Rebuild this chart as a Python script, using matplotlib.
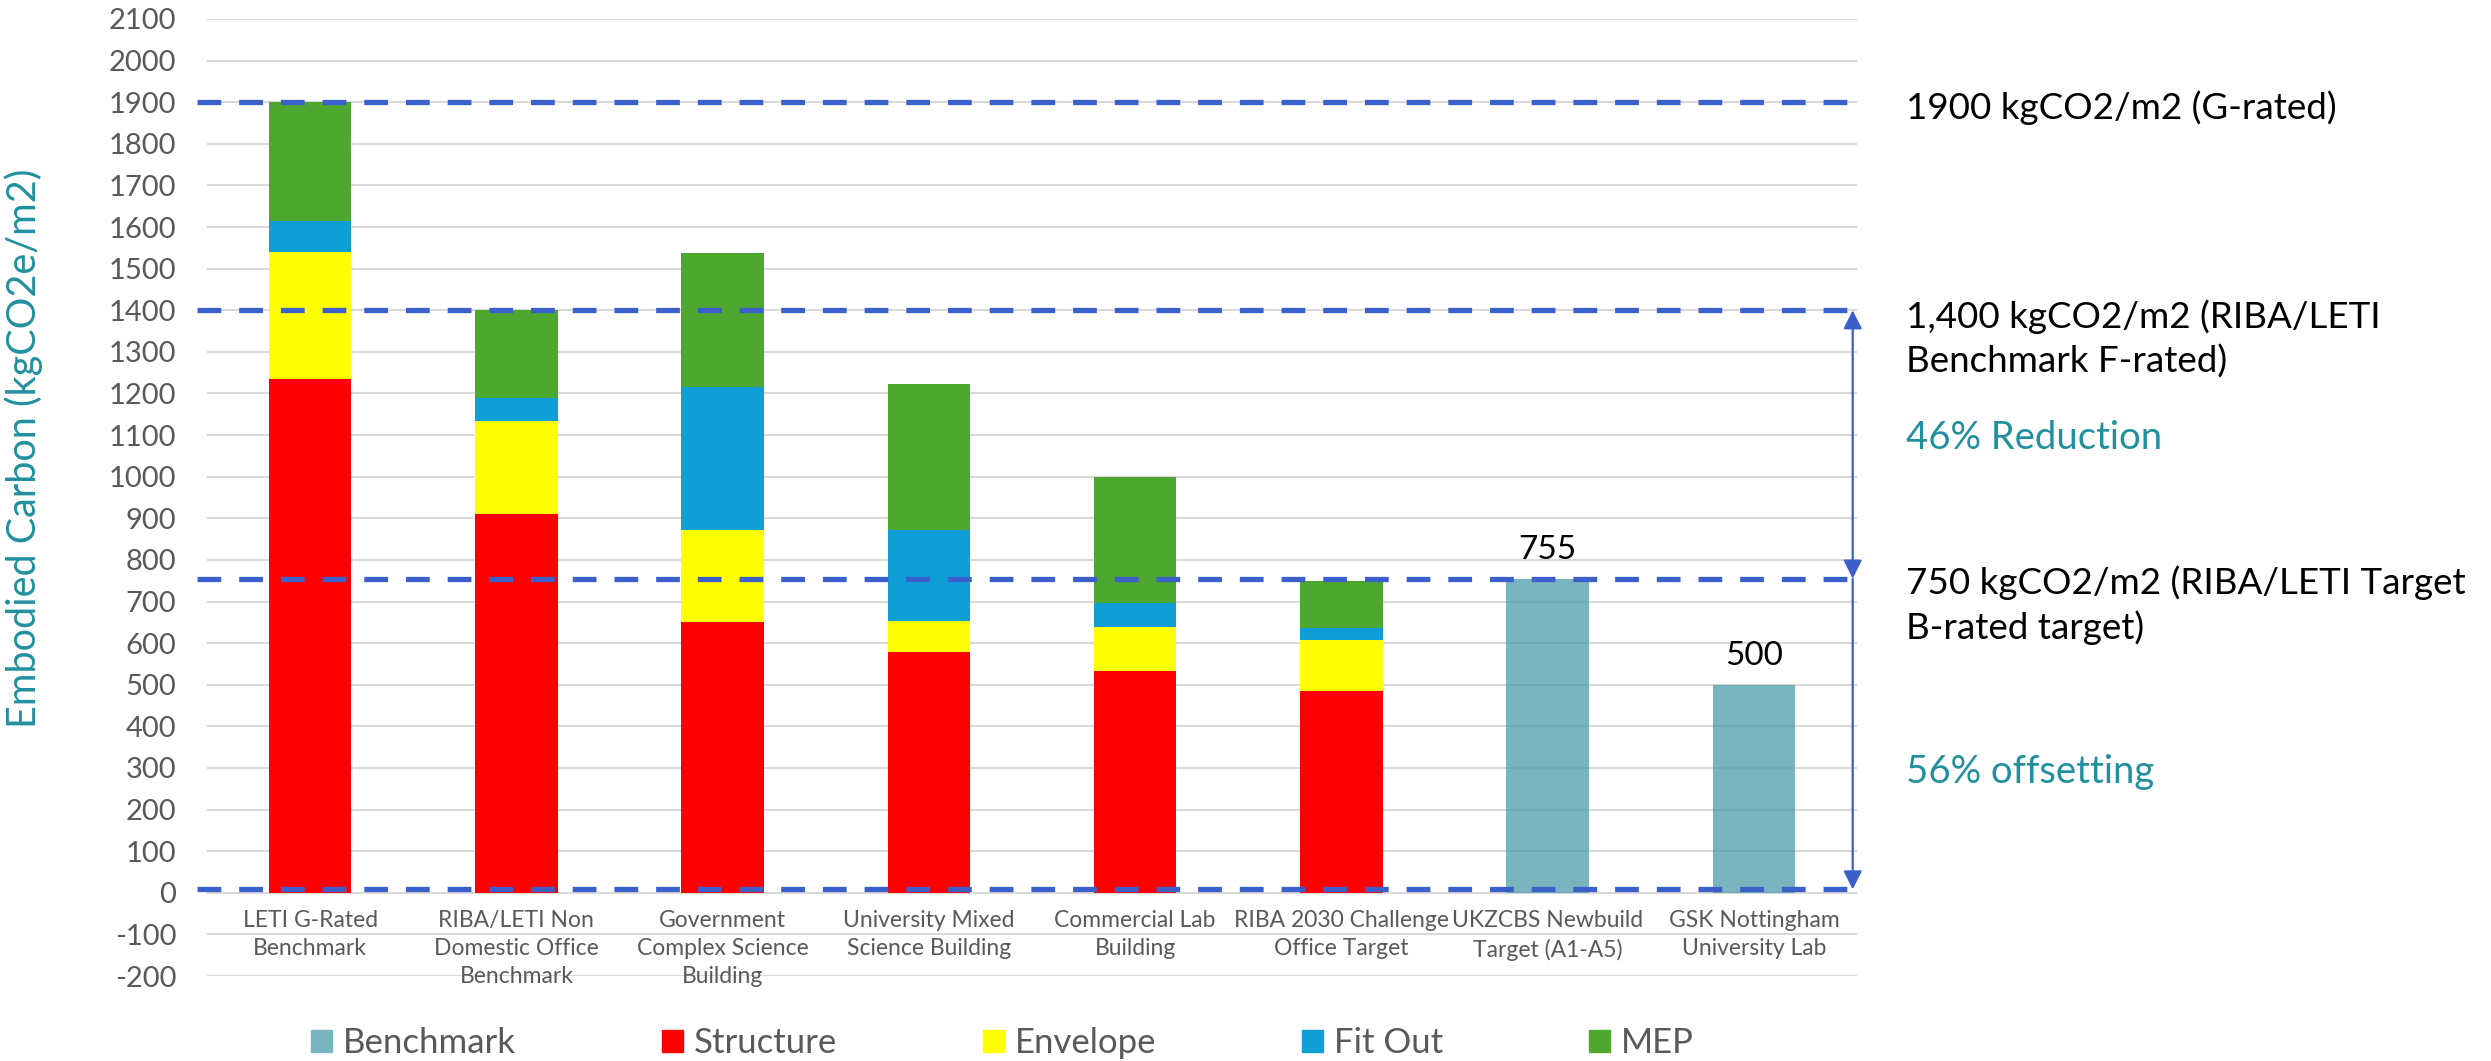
import matplotlib
matplotlib.use("Agg")
import matplotlib.pyplot as plt
from matplotlib.patches import Patch

plt.rcParams["font.family"] = ["Lato", "DejaVu Sans"]

# ---- data (kgCO2e/m2) ----
categories = [
    "LETI G-Rated\nBenchmark",
    "RIBA/LETI Non\nDomestic Office\nBenchmark",
    "Government\nComplex Science\nBuilding",
    "University Mixed\nScience Building",
    "Commercial Lab\nBuilding",
    "RIBA 2030 Challenge\nOffice Target",
    "UKZCBS Newbuild\nTarget (A1-A5)",
    "GSK Nottingham\nUniversity Lab",
]
benchmark = [0, 0, 0, 0, 0, 0, 755, 500]
structure = [1235, 910, 651, 578, 532, 486, 0, 0]
envelope = [305, 225, 220, 74, 107, 121, 0, 0]
fit_out = [75, 55, 345, 220, 58, 29, 0, 0]
mep = [285, 210, 322, 351, 303, 114, 0, 0]

ref_levels = [1900, 1400, 755, 8]
y_ticks = list(range(-200, 2101, 100))

TEAL = "#21909E"
GREY = "#595959"
DASH = "#3B5FCB"

fig = plt.figure(figsize=(24.91, 10.61), dpi=100)
ax = fig.add_axes([0.0831, 0.0801, 0.6624, 0.9020])

x = list(range(len(categories)))
w = 0.4

bench = ax.bar(x, benchmark, w, color="#4B9CAA", alpha=0.75, zorder=3, label="Benchmark")
ax.bar(x, structure, w, color="#FF0000", zorder=3, label="Structure")
b1 = [s for s in structure]
ax.bar(x, envelope, w, bottom=b1, color="#FFFF00", zorder=3, label="Envelope")
b2 = [a + b for a, b in zip(b1, envelope)]
ax.bar(x, fit_out, w, bottom=b2, color="#0F9ED5", zorder=3, label="Fit Out")
b3 = [a + b for a, b in zip(b2, fit_out)]
ax.bar(x, mep, w, bottom=b3, color="#4EA72E", zorder=3, label="MEP")

ax.bar_label(bench, labels=[str(v) if v else "" for v in benchmark],
             padding=10, fontsize=24, color="black", zorder=5)

# reference dashed lines
for lv in ref_levels:
    ax.plot([-0.548, 7.456], [lv, lv], color=DASH, lw=3.8, dashes=(4.5, 3.4),
            dash_capstyle="butt", zorder=4, clip_on=False)

# arrows at the right edge
ax.annotate("", xy=(7.479, 1400), xytext=(7.479, 755),
            arrowprops=dict(arrowstyle="<|-|>", color=DASH, lw=1.6,
                            mutation_scale=28, shrinkA=0, shrinkB=0),
            annotation_clip=False, zorder=5)
ax.annotate("", xy=(7.479, 8), xytext=(7.479, 755),
            arrowprops=dict(arrowstyle="-|>", color=DASH, lw=1.6,
                            mutation_scale=28, shrinkA=0, shrinkB=0),
            annotation_clip=False, zorder=5)

ax.set_xlim(-0.5, 7.5)
ax.set_ylim(-200, 2100)
ax.set_yticks(y_ticks)
ax.set_yticklabels([str(t) for t in y_ticks], fontsize=21, color=GREY)
ax.tick_params(axis="y", length=0, pad=22)
ax.set_xticks([])
ax.grid(axis="y", color="#D9D9D9", lw=1.5, zorder=0)
for s in ax.spines.values():
    s.set_visible(False)

for i, lab in enumerate(categories):
    ax.text(i, -42, lab, ha="center", va="top", fontsize=16.5, color=GREY,
            linespacing=1.4)

fig.text(24 / 2491, 1 - 448 / 1061, "Embodied Carbon (kgCO2e/m2)", rotation=90,
         ha="center", va="center", fontsize=28.5, color=TEAL)

# right hand annotations
tx = 7.737
ax.text(tx, 1888, "1900 kgCO2/m2 (G-rated)", fontsize=26.5, va="center", clip_on=False)
ax.text(tx, 1331, "1,400 kgCO2/m2 (RIBA/LETI\nBenchmark F-rated)", fontsize=26.5,
        va="center", linespacing=1.35, clip_on=False)
ax.text(tx, 1092, "46% Reduction", fontsize=27.5, color=TEAL, va="center", clip_on=False)
ax.text(tx, 691, "750 kgCO2/m2 (RIBA/LETI Target\nB-rated target)", fontsize=26.5,
        va="center", linespacing=1.35, clip_on=False)
ax.text(tx, 291, "56% offsetting", fontsize=27.5, color=TEAL, va="center", clip_on=False)

handles = [
    Patch(color="#78B5BF", label="Benchmark"),
    Patch(color="#FF0000", label="Structure"),
    Patch(color="#FFFF00", label="Envelope"),
    Patch(color="#0F9ED5", label="Fit Out"),
    Patch(color="#4EA72E", label="MEP"),
]
leg = fig.legend(handles=handles, loc="center left", bbox_to_anchor=(311 / 2491, 1 - 1043 / 1061),
                 ncol=5, frameon=False, fontsize=25, handlelength=0.6, handleheight=0.6,
                 handletextpad=0.32, columnspacing=4.2, borderpad=0, borderaxespad=0)
for t in leg.get_texts():
    t.set_color(GREY)

fig.savefig("out.png", dpi=100)
